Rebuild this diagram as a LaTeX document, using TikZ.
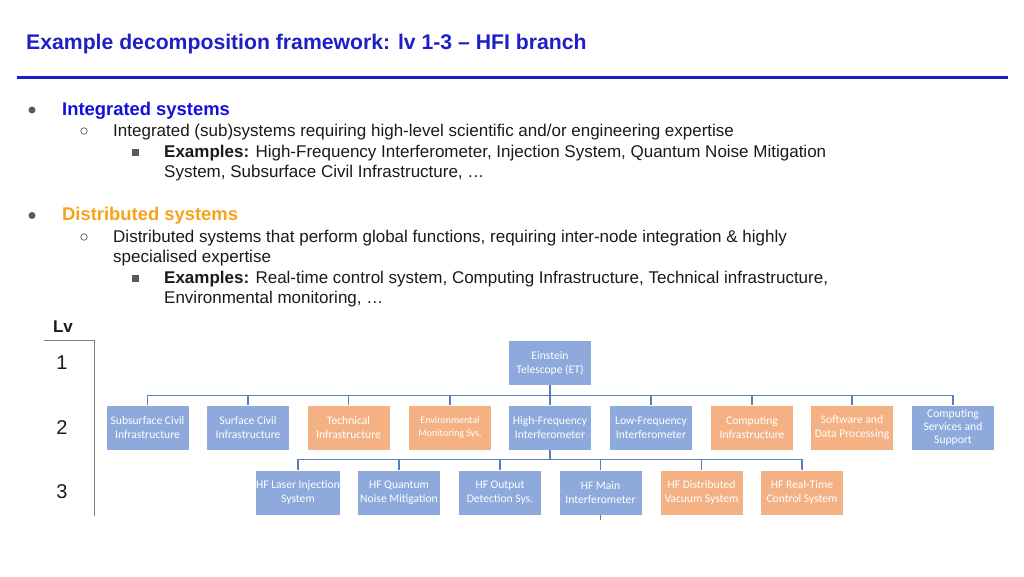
\documentclass[tikz,border=0pt]{standalone}
\usepackage{fontspec}
\setmainfont{Liberation Sans}
\newfontfamily\boxfont{Carlito}
\definecolor{titleblue}{HTML}{1F1FC8}
\definecolor{headblue}{HTML}{1010DD}
\definecolor{headorange}{HTML}{F7A21B}
\definecolor{bodytext}{HTML}{1A1A1A}
\definecolor{bulletgray}{HTML}{5A5A5A}
\definecolor{boxblue}{HTML}{8EA9DB}
\definecolor{boxorange}{HTML}{F4B183}
\definecolor{connblue}{HTML}{5B7DB9}
\definecolor{axisgray}{HTML}{7F7F7F}
\tikzset{
  sysbox/.style={rectangle, minimum width=82pt, minimum height=44pt, inner sep=0pt,
    text=white, align=center, font=\boxfont\fontsize{11.6}{14}\selectfont},
  bluebox/.style={sysbox, fill=boxblue},
  orangebox/.style={sysbox, fill=boxorange},
  conn/.style={draw=connblue, line width=1.3pt},
  bodyline/.style={anchor=base west, inner sep=0pt, text=bodytext, font=\fontsize{17}{20}\selectfont},
  headline/.style={anchor=base west, inner sep=0pt, font=\bfseries\fontsize{18.4}{21}\selectfont},
  dotbullet/.style={circle, fill=bulletgray, minimum size=7pt, inner sep=0pt},
  ringbullet/.style={circle, draw=bulletgray, line width=0.7pt, minimum size=6.5pt, inner sep=0pt},
  squarebullet/.style={rectangle, fill=bulletgray, minimum size=7pt, inner sep=0pt},
  lvnum/.style={inner sep=0pt, text=bodytext, font=\fontsize{20}{24}\selectfont}
}
\begin{document}
\begin{tikzpicture}[x=1pt, y=-1pt]
\useasboundingbox (0,0) rectangle (1024,576);

% title and rule
\node[anchor=base west, inner sep=0pt, text=titleblue, font=\bfseries\fontsize{21.2}{25}\selectfont] (title) at (26,49) {Example decomposition framework: lv 1-3 -- HFI branch};
\draw[draw=titleblue, line width=3pt] (17,77) -- (1008,77);

% integrated systems
\node[dotbullet] (b1) at (32,110) {};
\node[headline, text=headblue] (h1) at (62,115) {Integrated systems};
\node[ringbullet] (r1) at (84,131) {};
\node[bodyline] (t1) at (113,136) {Integrated (sub)systems requiring high-level scientific and/or engineering expertise};
\node[squarebullet] (s1) at (135,152.5) {};
\node[bodyline] (e1a) at (164,157) {\textbf{Examples:} High-Frequency Interferometer, Injection System, Quantum Noise Mitigation};
\node[bodyline] (e1b) at (164,177) {System, Subsurface Civil Infrastructure, \dots};

% distributed systems
\node[dotbullet] (b2) at (32,215.5) {};
\node[headline, text=headorange] (h2) at (62,220.5) {Distributed systems};
\node[ringbullet] (r2) at (84,237) {};
\node[bodyline] (t2a) at (113,242) {Distributed systems that perform global functions, requiring inter-node integration \& highly};
\node[bodyline] (t2b) at (113,262) {specialised expertise};
\node[squarebullet] (s2) at (135,278.5) {};
\node[bodyline] (e2a) at (164,283) {\textbf{Examples:} Real-time control system, Computing Infrastructure, Technical infrastructure,};
\node[bodyline] (e2b) at (164,303) {Environmental monitoring, \dots};

% level axis
\node[inner sep=0pt, text=bodytext, font=\bfseries\fontsize{17}{20}\selectfont] (lv) at (63,327) {Lv};
\draw[draw=axisgray, line width=1pt] (44,340.5) -- (94,340.5) -- (94,516);
\node[lvnum] (n1) at (62,363) {1};
\node[lvnum] (n2) at (62,428) {2};
\node[lvnum] (n3) at (62,492) {3};

% level 1
\node[bluebox] (et) at (550,363) {Einstein\\Telescope (ET)};

% level 2
\node[bluebox] (ssci) at (147.5,427.5) {Subsurface Civil\\Infrastructure};
\node[bluebox] (sci) at (248,427.5) {Surface Civil\\Infrastructure};
\node[orangebox] (ti) at (348.5,427.5) {Technical\\Infrastructure};
\node[orangebox, font=\boxfont\fontsize{10}{13}\selectfont] (ems) at (450,427.5) {Environmental\\Monitoring Sys.};
\node[bluebox] (hfi) at (550,427.5) {High-Frequency\\Interferometer};
\node[bluebox] (lfi) at (651,427.5) {Low-Frequency\\Interferometer};
\node[orangebox] (ci) at (752,427.5) {Computing\\Infrastructure};
\node[orangebox] (sdp) at (852,427.5) {Software and\\Data Processing};
\node[bluebox, font=\boxfont\fontsize{11.6}{13.3}\selectfont] (css) at (953,427.5) {Computing\\Services and\\Support};

% level 3
\node[bluebox] (las) at (298,492.5) {HF Laser Injection\\System};
\node[bluebox] (qnm) at (399,492.5) {HF Quantum\\Noise Mitigation};
\node[bluebox] (ods) at (500,492.5) {HF Output\\Detection Sys.};
\node[bluebox] (mi) at (600.5,492.5) {HF Main\\Interferometer};
\node[orangebox] (dvs) at (701.5,492.5) {HF Distributed\\Vacuum System};
\node[orangebox] (rtc) at (802,492.5) {HF Real-Time\\Control System};

% connectors level 1 -> 2
\foreach \c in {ssci,sci,ti,ems,hfi,lfi,ci,sdp,css}
  \draw[conn] (et.south) -- ++(0,10) -| (\c.north);
% connectors level 2 -> 3
\foreach \c in {las,qnm,ods,mi,dvs,rtc}
  \draw[conn] (hfi.south) -- ++(0,10) -| (\c.north);
\coordinate (mitail) at ([yshift=-5pt]mi.south);
\draw[draw=connblue, line width=0.8pt] (mi.south) -- (mitail);
\end{tikzpicture}
\end{document}
